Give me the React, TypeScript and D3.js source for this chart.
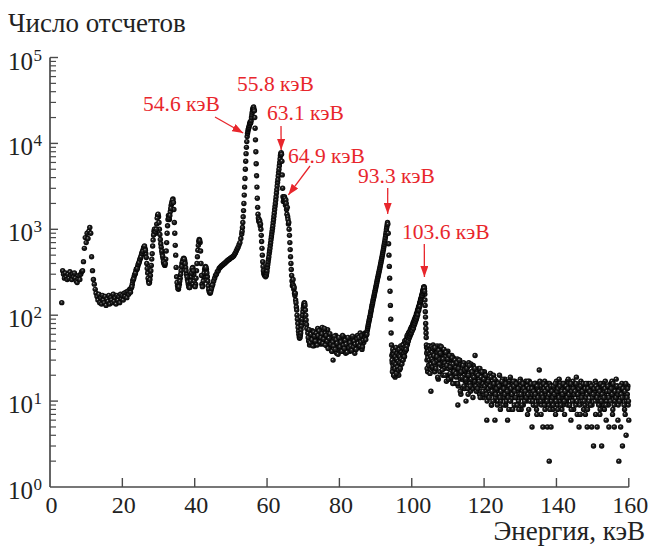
import React from "react";
import * as d3 from "d3";

// ---- Data (energy in keV, counts) ----
// Segment 1: 3.25 .. 53.0 keV, step 0.25
const seg1Start = 3.25;
const seg1Step = 0.25;
const seg1Counts = [
  140, 330, 300, 270,
  310, 280, 260, 300,
  270, 320, 290, 260,
  300, 280, 310, 270,
  250, 240, 265, 290,
  260, 300, 320, 330,
  420, 600, 800, 700,
  900, 780, 950, 1050,
  900, 480, 330, 260,
  230, 200, 180, 165,
  150, 175, 140, 160,
  135, 170, 150, 140,
  165, 130, 155, 145,
  170, 135, 160, 150,
  140, 175, 145, 160,
  135, 170, 150, 165,
  140, 175, 155, 170,
  150, 180, 165, 185,
  160, 190, 175, 200,
  185, 210, 230, 260,
  280, 300, 330, 340,
  370, 400, 430, 460,
  500, 540, 580, 620,
  600, 520, 400, 310,
  250, 240, 290, 380,
  520, 750, 950, 1000,
  900, 1150, 1450, 1400,
  1000, 760, 620, 520,
  460, 400, 380, 450,
  700, 1100, 1450, 1300,
  1600, 1900, 2100, 2250,
  1700, 900, 500, 280,
  220, 200, 230, 270,
  330, 400, 440, 460,
  430, 360, 300, 260,
  230, 210, 220, 280,
  340, 360, 300, 220,
  230, 330, 480, 650,
  760, 700, 400, 230,
  220, 280, 340, 370,
  340, 280, 220, 190,
  180, 195, 215, 230,
  250, 270, 290, 300,
  320, 330, 350, 360,
  370, 380, 385, 395,
  400, 410, 420, 430,
  440, 445, 455, 465,
  470, 480, 490, 510,
  530, 560, 590, 620,
  660, 700, 780, 880,
];
// Extra channels in the 22-45 keV multiplet region
const seg1bStart = 22.375;
const seg1bStep = 0.25;
const seg1bCounts = [
  205, 215, 250, 265, 295, 310, 345, 350, 390, 410, 450, 475, 525, 555, 610, 640, 570, 470, 350, 270,
  235, 260, 330, 450, 640, 860, 1000, 940, 1000, 1350, 1500, 1200, 870, 680, 560, 490, 420, 390, 400, 560,
  900, 1300, 1350, 1450, 1750, 2000, 2200, 2050, 1200, 650, 360, 240, 205, 215, 250, 300, 370, 420, 455, 450,
  400, 330, 280, 245, 215, 210, 250, 310, 355, 330, 250, 215, 270, 400, 570, 720, 740, 560, 290, 215,
  250, 310, 360, 360, 310, 250, 200, 185, 185, 205, 225,
];

// Segment 2: 53.1 .. 71.0 keV, step 0.1
const seg2Start = 53.1;
const seg2Step = 0.1;
const seg2Counts = [
  950, 1050, 1200, 1400, 1650, 2000, 2500, 3100, 3900, 5000,
  6200, 7600, 9000, 10500, 12000, 13000, 13800, 14500, 15000, 15500,
  16200, 17000, 17600, 17000, 17500, 18500, 20000, 21500, 23000, 24500,
  25500, 26000, 26500, 25000, 24000, 20000, 15000, 11000, 8000, 5800,
  4200, 3100, 2300, 1800, 1500, 1350, 1250, 1300, 1200, 1250,
  1100, 1150, 1000, 850, 720, 600, 500, 420, 370, 330,
  310, 300, 290, 300, 290, 280, 300, 290, 310, 330,
  360, 390, 420, 450, 480, 520, 560, 600, 650, 700,
  760, 820, 880, 950, 1020, 1100, 1200, 1300, 1420, 1550,
  1700, 1850, 2000, 2200, 2400, 2650, 2900, 3200, 3500, 3800,
  4200, 4600, 5000, 5500, 6000, 6600, 7200, 7600, 7800, 7500,
  6200, 4300, 3000, 2400, 2100, 2300, 2200, 2400, 2300, 2100,
  1900, 2200, 2000, 1700, 1500, 1800, 1400, 1300, 1150, 1200,
  1000, 850, 700, 580, 480, 400, 340, 290, 250, 220,
  230, 260, 220, 200, 210, 180, 170, 180, 150, 140,
  125, 115, 100, 90, 80, 72, 65, 60, 56, 54,
  55, 58, 62, 68, 75, 82, 90, 100, 110, 120,
  128, 135, 140, 138, 130, 115, 100, 88, 78, 70,
];

// Segment 3: 71.25 .. 87.0 keV, step 0.25 (plus interleaved channels 3b)
const seg3Start = 71.25;
const seg3Step = 0.25;
const seg3Counts = [
  62, 50, 45, 58, 48, 66, 52, 44,
  60, 54, 47, 70, 56, 50, 64, 46,
  72, 58, 48, 62, 52, 44, 68, 50,
  42, 56, 48, 38, 30, 52, 44, 58,
  36, 48, 42, 54, 40, 50, 38, 46,
  56, 42, 36, 50, 44, 40, 52, 38,
  46, 42, 54, 40, 36, 48, 44, 58,
  42, 50, 62, 46, 40, 52, 48, 56,
];
const seg3bStart = 71.375;
const seg3bStep = 0.25;
const seg3bCounts = [
  55, 68, 48, 60, 52, 44, 64, 57,
  50, 62, 45, 58, 66, 49, 55, 61,
  47, 53, 70, 45, 58, 50, 41, 54,
  61, 46, 38, 49, 44, 57, 40, 52,
  47, 35, 55, 43, 49, 38, 58, 45,
  41, 51, 46, 37, 55, 42, 48, 44,
  39, 57, 43, 50, 46, 40, 53, 47,
  55, 44, 49, 58, 43, 51, 60, 62,
];

// Segment 4: 87.1 .. 106.0 keV, step 0.1 (plus interleaved channels 4b)
const seg4Start = 87.1;
const seg4Step = 0.1;
const seg4Counts = [
  55, 60, 52, 58, 62, 60, 66, 70, 74, 78,
  82, 86, 90, 95, 98, 104, 110, 115, 122, 128,
  134, 140, 148, 155, 162, 170, 178, 186, 195, 205,
  215, 225, 236, 248, 260, 272, 285, 298, 312, 326,
  342, 358, 376, 394, 414, 436, 458, 482, 508, 535,
  565, 595, 630, 665, 705, 750, 800, 860, 920, 990,
  1060, 1130, 1200, 1150, 900, 680, 500, 370, 270, 190,
  130, 90, 62, 45, 34, 28, 36, 24, 31, 20,
  38, 22, 30, 19, 41, 25, 33, 29, 21, 36,
  30, 26, 40, 20, 34, 23, 37, 31, 42, 29,
  35, 27, 44, 32, 38, 30, 46, 36, 41, 33,
  48, 38, 44, 52, 40, 50, 56, 46, 54, 60,
  52, 58, 64, 56, 62, 68, 60, 66, 72, 68,
  74, 70, 78, 82, 76, 84, 88, 82, 90, 94,
  90, 98, 104, 100, 108, 114, 110, 120, 126, 122,
  132, 140, 136, 148, 156, 152, 164, 172, 168, 182,
  192, 200, 210, 215, 205, 175, 130, 95, 70, 55,
  42, 30, 38, 22, 34, 40, 26, 36, 44, 30,
  38, 28, 13, 42, 34, 40, 24, 36, 45, 32,
];
const seg4bStart = 94.55;
const seg4bStep = 0.1;
const seg4bCounts = [
  30, 22, 40, 26, 35, 20, 28, 38, 24, 33,
  27, 42, 21, 31, 36, 25, 39, 29, 23, 34,
  40, 28, 33, 24, 44, 31, 37, 27, 42, 35,
  30, 45, 36, 41, 33, 50, 38, 43, 47, 40,
  51, 44, 58, 48, 55, 50, 62, 54, 59, 57,
  64, 60, 70, 62, 67, 74, 66, 72, 78, 70,
  80, 76, 86, 80, 92, 85, 96, 90, 100, 95,
  106, 102, 112, 118, 115, 125, 130, 128, 140, 145,
  150, 158, 165, 170, 180, 188, 195, 205, 212, 208,
  190, 150, 110, 80, 62, 45, 36, 24, 42, 32,
  38, 26, 44, 30, 35, 21, 40, 33, 27, 43,
  31, 37, 25, 41, 29,
];

// Segment 5: 106.25 .. 160.0 keV, step 0.25 (plus interleaved channels 5b, 5c)
const seg5Start = 106.25;
const seg5Step = 0.25;
const seg5Counts = [
  40, 26, 36, 44, 30, 38, 22, 42, 34, 28, 40, 24,
  36, 30, 20, 38, 26, 34, 18, 30, 24, 32, 20, 28,
  16, 26, 9, 22, 30, 18, 24, 14, 26, 20, 17, 10,
  24, 15, 28, 19, 13, 22, 18, 26, 16, 34, 14, 21,
  18, 24, 12, 20, 15, 22, 11, 17, 20, 13, 6, 18,
  11, 16, 21, 9, 14, 19, 12, 6, 17, 10, 15, 13,
  20, 8, 14, 16, 16, 12, 18, 9, 13, 6, 15, 17,
  19, 12, 8, 14, 11, 17, 9, 15, 15, 10, 12, 18,
  8, 14, 11, 16, 12, 17, 15, 7, 13, 17, 10, 12,
  5, 14, 9, 16, 16, 8, 13, 10, 23, 12, 7, 15,
  5, 11, 17, 9, 13, 5, 16, 2, 10, 5, 15, 8,
  14, 11, 7, 17, 9, 13, 18, 15, 12, 8, 16, 11,
  7, 14, 10, 17, 18, 9, 12, 6, 11, 15, 8, 16,
  10, 19, 7, 12, 5, 14, 17, 11, 16, 8, 12, 7,
  13, 5, 16, 15, 9, 12, 5, 14, 3, 11, 17, 16,
  5, 10, 13, 7, 12, 3, 9, 15, 8, 17, 6, 14,
  10, 5, 13, 16, 16, 7, 12, 5, 11, 18, 14, 6,
  2, 10, 5, 13, 3, 15, 12, 7, 4, 11, 15, 6,
];
const seg5bStart = 106.083;
const seg5bStep = 0.25;
const seg5bCounts = [
  34, 22, 41, 29, 37, 18, 31, 44, 26, 35, 20, 38,
  28, 33, 17, 36, 24, 30, 21, 27, 34, 16, 29, 23,
  25, 19, 31, 15, 27, 21, 12, 24, 18, 28, 14, 22,
  17, 25, 12, 21, 16, 27, 19, 14, 23, 17, 20, 13,
  21, 15, 18, 24, 13, 19, 16, 12, 22, 15, 17, 10,
  14, 18, 12, 16, 9, 15, 20, 13, 11, 17, 14, 10,
  12, 16, 10, 14, 18, 11, 13, 9, 15, 12, 16, 8,
  13, 10, 15, 12, 17, 9, 14, 11, 16, 13, 8, 12,
  15, 11, 13, 9, 16, 12, 14, 10, 17, 8, 13, 11,
  12, 15, 9, 13, 11, 16, 7, 14, 10, 12, 15, 9,
  13, 10, 14, 8, 12, 15, 11, 9, 16, 12, 10, 13,
  9, 14, 11, 15, 12, 8, 13, 10, 16, 11, 14, 9,
  12, 15, 10, 13, 9, 16, 11, 14, 8, 12, 17, 10,
  14, 9, 12, 15, 11, 13, 7, 16, 10, 12, 14, 9,
  11, 15, 8, 13, 10, 16, 12, 9, 14, 11, 13, 7,
  15, 10, 12, 14, 8, 13, 11, 16, 9, 12, 14, 10,
  13, 9, 15, 11, 12, 17, 8, 14, 10, 13, 11, 15,
  9, 12, 14, 10, 16, 11, 13, 8, 15, 10, 12, 9,
];
const seg5cStart = 106.167;
const seg5cStep = 0.25;
const seg5cCounts = [
  28, 42, 24, 33, 19, 39, 27, 36, 43, 23, 31, 40,
  20, 37, 26, 31, 18, 34, 25, 19, 32, 27, 22, 30,
  21, 28, 16, 24, 30, 13, 22, 19, 26, 15, 23, 18,
  24, 14, 20, 26, 15, 18, 22, 11, 19, 24, 15, 21,
  14, 20, 17, 11, 19, 22, 13, 18, 15, 20, 12, 16,
  17, 11, 15, 19, 13, 10, 16, 18, 12, 14, 9, 16,
  15, 11, 13, 17, 9, 14, 12, 16, 10, 13, 11, 15,
  10, 14, 12, 8, 15, 13, 11, 16, 9, 14, 12, 17,
  12, 9, 16, 14, 10, 13, 11, 15, 12, 14, 10, 16,
  14, 10, 13, 16, 12, 9, 15, 11, 13, 17, 10, 12,
  11, 16, 9, 13, 15, 10, 14, 12, 8, 15, 13, 11,
  15, 12, 16, 10, 13, 14, 11, 15, 9, 13, 12, 16,
  10, 13, 15, 11, 14, 12, 9, 16, 13, 10, 14, 12,
  13, 16, 10, 12, 14, 9, 15, 11, 13, 16, 10, 14,
  16, 12, 14, 10, 13, 9, 15, 11, 12, 14, 10, 15,
  11, 14, 9, 13, 16, 10, 12, 15, 11, 14, 9, 13,
  15, 11, 13, 10, 14, 12, 16, 9, 13, 11, 15, 12,
  13, 10, 15, 12, 11, 14, 9, 13, 16, 11, 14, 10,
];

const segments = [
  { start: seg1Start, step: seg1Step, counts: seg1Counts },
  { start: seg1bStart, step: seg1bStep, counts: seg1bCounts },
  { start: seg2Start, step: seg2Step, counts: seg2Counts },
  { start: seg3Start, step: seg3Step, counts: seg3Counts },
  { start: seg3bStart, step: seg3bStep, counts: seg3bCounts },
  { start: seg4Start, step: seg4Step, counts: seg4Counts },
  { start: seg4bStart, step: seg4bStep, counts: seg4bCounts },
  { start: seg5Start, step: seg5Step, counts: seg5Counts },
  { start: seg5bStart, step: seg5bStep, counts: seg5bCounts },
  { start: seg5cStart, step: seg5cStep, counts: seg5cCounts },
];

// Axis ticks
const xTicks = [0, 20, 40, 60, 80, 100, 120, 140, 160];
const yDecades = [0, 1, 2, 3, 4, 5];

// Annotations: label, arrow tip (energy, counts)
const annLabels = ["54.6 кэВ", "55.8 кэВ", "63.1 кэВ", "64.9 кэВ", "93.3 кэВ", "103.6 кэВ"];
const annTipE = [53.4, null, 63.9, 65.9, 93.35, 103.5];
const annTipC = [13200, null, 8380, 2510, 1510, 279];

// Layout (pixels)
const W = 652;
const H = 548;
const annLayout = [
  { tx: 143, ty: 111, ax: 215, ay: 117 },
  { tx: 237, ty: 91, ax: 0, ay: 0 },
  { tx: 267, ty: 120, ax: 281, ay: 126 },
  { tx: 288, ty: 163, ax: 310, ay: 166 },
  { tx: 358, ty: 183, ax: 387.7, ay: 188 },
  { tx: 402, ty: 239, ax: 424.3, ay: 244 },
];

const SERIF = "'Liberation Serif', 'Times New Roman', serif";
const AXIS = "#4a4a4a";
const RED = "#e8262c";

export default function App() {
  const x = d3.scaleLinear().domain([0, 160]).range([50, 628.8]);
  const y = d3.scaleLog().domain([1, 1e5]).range([487, 57.5]);

  const points = segments.flatMap((s) =>
    s.counts.map((c, i) => ({ e: s.start + i * s.step, c }))
  );

  const minor: number[] = [];
  for (let k = 0; k < 5; k++) for (let m = 2; m <= 9; m++) minor.push(m * Math.pow(10, k));

  const tf = { fontFamily: SERIF };

  return (
    <svg
      width={W}
      height={H}
      style={{ position: "absolute", left: 0, top: 0, background: "#fff", fontFamily: SERIF }}
    >
      <defs>
        <radialGradient id="ball" cx="50%" cy="50%" r="50%" fx="40%" fy="36%">
          <stop offset="0%" stopColor="#c8c8c8" />
          <stop offset="30%" stopColor="#2a2a2a" />
          <stop offset="100%" stopColor="#000" />
        </radialGradient>
        <marker id="arrow" markerUnits="userSpaceOnUse" markerWidth="11" markerHeight="8"
          refX="11" refY="4" orient="auto">
          <path d="M0,0 L11,4 L0,8 z" fill={RED} />
        </marker>
      </defs>

      {/* data points */}
      <g>
        {points.map((p, i) => (
          <circle key={i} cx={x(p.e)} cy={y(p.c)} r={2.7} fill="url(#ball)" />
        ))}
      </g>

      {/* axes */}
      <line x1={x(0)} x2={x(160)} y1={y(1)} y2={y(1)} stroke={AXIS} strokeWidth={1.7} />
      <line x1={x(0)} x2={x(0)} y1={y(1)} y2={y(1e5)} stroke={AXIS} strokeWidth={1.7} />
      {xTicks.filter((t) => t > 0).map((t) => (
        <line key={"xt" + t} x1={x(t)} x2={x(t)} y1={y(1)} y2={y(1) - 9} stroke={AXIS} strokeWidth={1.4} />
      ))}
      {xTicks.map((t) => (
        <text key={"xl" + t} x={x(t) + 1.5} y={513} fontSize={24} textAnchor="middle" fill="#222" style={tf}>
          {t}
        </text>
      ))}
      {yDecades.filter((d) => d > 0).map((d) => (
        <line key={"yt" + d} x1={x(0)} x2={x(0) + 8} y1={y(Math.pow(10, d))} y2={y(Math.pow(10, d))}
          stroke={AXIS} strokeWidth={1.4} />
      ))}
      {minor.map((v) => (
        <line key={"ym" + v} x1={x(0)} x2={x(0) + 6} y1={y(v)} y2={y(v)} stroke={AXIS} strokeWidth={1.2} />
      ))}
      {yDecades.map((d) => {
        const ty = y(Math.pow(10, d));
        return (
          <g key={"yl" + d} fill="#222">
            <text x={33} y={ty + 12} fontSize={25} textAnchor="end" style={tf}>10</text>
            <text x={33.5} y={ty + 3} fontSize={17} style={tf}>{d}</text>
          </g>
        );
      })}

      {/* axis titles */}
      <text x={8} y={32} fontSize={27} fill="#222" style={tf}>Число отсчетов</text>
      <text x={645} y={540} fontSize={27} fill="#222" textAnchor="end" style={tf}>Энергия, кэВ</text>

      {/* annotations */}
      {annLabels.map((lab, i) => {
        const L = annLayout[i];
        const te = annTipE[i];
        const tc = annTipC[i];
        return (
          <g key={"ann" + i}>
            <text x={L.tx} y={L.ty} fontSize={21.5} fill={RED} style={tf}>{lab}</text>
            {te !== null && tc !== null && (
              <line x1={L.ax} y1={L.ay} x2={x(te)} y2={y(tc)} stroke={RED} strokeWidth={1.3}
                markerEnd="url(#arrow)" />
            )}
          </g>
        );
      })}
    </svg>
  );
}
